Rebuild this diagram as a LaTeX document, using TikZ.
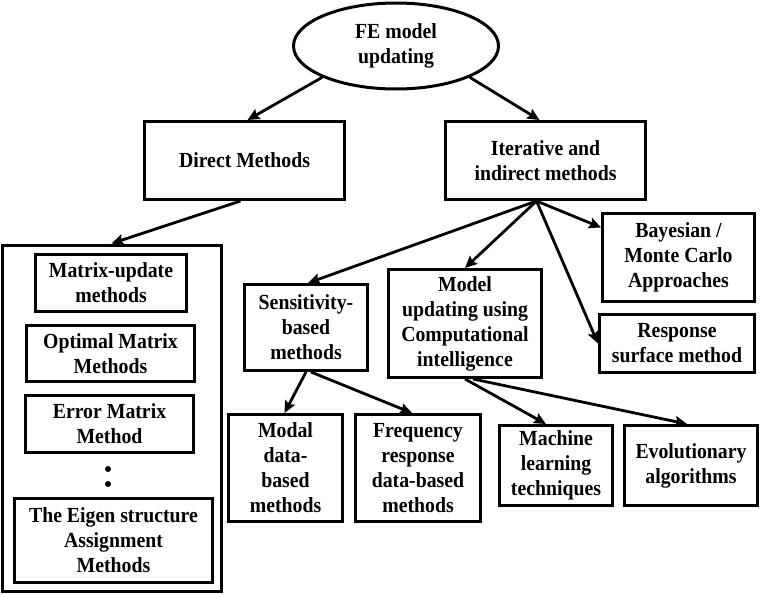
\documentclass[tikz,border=0pt]{standalone}
\usepackage{fontspec}
\setmainfont[FakeStretch=0.92]{Liberation Serif}
\usetikzlibrary{shapes.geometric,arrows.meta,calc}
\begin{document}
\begin{tikzpicture}[x=1pt,y=-1pt,
  txt/.style={font=\fontsize{21.5}{25}\selectfont\bfseries, align=center, inner sep=0pt},
  box/.style={txt, draw, line width=3pt, rectangle},
  conn/.style={line width=2.8pt, -{Stealth[length=12pt,width=11pt,inset=2pt]}}]
\useasboundingbox (0,0) rectangle (761,594);
\node[txt, draw, line width=3pt, ellipse, minimum width=205pt, minimum height=86pt] (ell) at (396,46) {FE model\\updating};
\node[box, minimum width=200pt, minimum height=78pt] (direct) at (244.5,160.5) {Direct Methods};
\node[box, minimum width=200pt, minimum height=78pt] (iter) at (545.5,160.5) {Iterative and\\indirect methods};
\node[draw, line width=3pt, minimum width=219pt, minimum height=346pt, inner sep=0pt] (outer) at (111.5,418) {};
\node[box, minimum width=151pt, minimum height=57pt] (mu) at (111,283) {Matrix-update\\methods};
\node[box, minimum width=168pt, minimum height=56pt] (opt) at (110.5,353.5) {Optimal Matrix\\Methods};
\node[box, minimum width=168pt, minimum height=57pt] (err) at (109.5,424) {Error Matrix\\Method};
\fill (108,469) circle (3pt) coordinate (d1);
\fill (108,484) circle (3pt) coordinate (d2);
\node[box, minimum width=198pt, minimum height=84pt] (eig) at (113.5,540.5) {The Eigen structure\\Assignment\\Methods};
\node[box, minimum width=152pt, minimum height=88pt] (bay) at (678.5,257.5) {Bayesian /\\Monte Carlo\\Approaches};
\node[box, minimum width=155pt, minimum height=58pt] (resp) at (677,343.5) {Response\\surface method};
\node[box, minimum width=123pt, minimum height=86pt] (sens) at (306,327.5) {Sensitivity-\\based\\methods};
\node[box, minimum width=153pt, minimum height=108pt] (model) at (465,323.5) {Model\\updating using\\Computational\\intelligence};
\node[box, minimum width=114pt, minimum height=107pt] (modal) at (285.5,468) {Modal\\data-\\based\\methods};
\node[box, minimum width=125pt, minimum height=107pt] (freq) at (418,468) {Frequency\\response\\data-based\\methods};
\node[box, minimum width=113pt, minimum height=80pt] (mach) at (556,465.5) {Machine\\learning\\techniques};
\node[box, minimum width=133pt, minimum height=80pt] (evo) at (691,465.5) {Evolutionary\\algorithms};
% connectors
\draw[conn] (ell.203) -- ([xshift=3pt]direct.north);
\draw[conn] (ell.337) -- ([xshift=-6pt]iter.north);
\draw[conn] ([xshift=-4pt]direct.south) -- (outer.north);
\coordinate (ib) at ([xshift=-9pt]iter.south);
\draw[conn] (ib) -- ([xshift=2pt]sens.north);
\draw[conn] (ib) -- (model.north);
\draw[conn] (ib) -- ([yshift=30pt]bay.west);
\draw[conn] (ib) -- (resp.west);
\draw[conn] (sens.south) -- ([xshift=-1pt]modal.north);
\draw[conn] ([xshift=5pt]sens.south) -- ([xshift=-6pt]freq.north);
\draw[conn] (model.south) -- ([xshift=-10pt]mach.north);
\draw[conn] ([xshift=8pt]model.south) -- ([xshift=-4pt]evo.north);
\end{tikzpicture}
\end{document}
